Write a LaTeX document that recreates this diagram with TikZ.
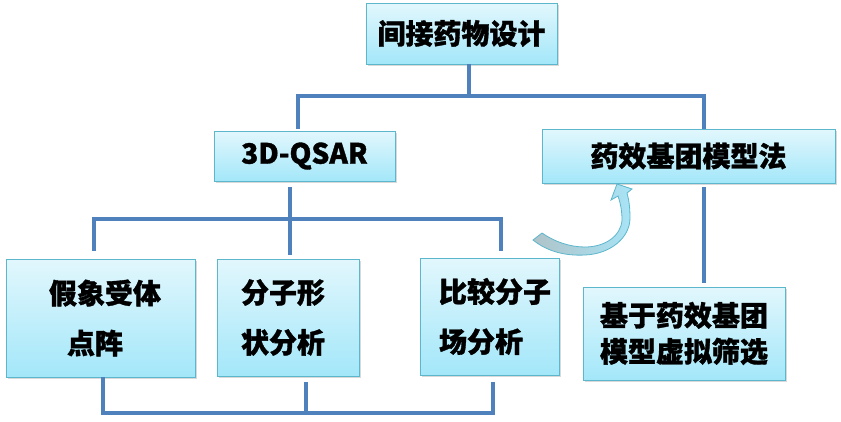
\documentclass[tikz,border=0pt]{standalone}
\usepackage{fontspec}
\newfontfamily\cjk{Noto Sans CJK SC}[BoldFeatures={FakeBold=1.2}]
\usetikzlibrary{shadows}
\definecolor{boxtop}{HTML}{E2F7FD}
\definecolor{boxbot}{HTML}{A3E7F9}
\definecolor{boxedge}{HTML}{5CB6CC}
\definecolor{linkblue}{HTML}{4F81BD}
\definecolor{arrowtail}{HTML}{AFC3C8}
\definecolor{arrowhead}{HTML}{A8E4F6}
\tikzset{link/.style={draw=linkblue,line width=4pt},
  box/.style={draw=boxedge,line width=.9pt,top color=boxtop,bottom color=boxbot,inner sep=0pt,
    font=\cjk\bfseries\fontsize{28}{36}\selectfont,
    drop shadow={opacity=.3,shadow xshift=2pt,shadow yshift=-2pt}},
  twoline/.style={box,align=left,inner xsep=0pt,font=\cjk\bfseries\fontsize{28}{50}\selectfont}}
\begin{document}
\begin{tikzpicture}[x=1pt,y=-1pt]
\useasboundingbox (0,0) rectangle (841,421);
\node[box,minimum width=191pt,minimum height=61pt](top)at(461.5,33.5){间接药物设计};
\node[box,minimum width=181pt,minimum height=50pt](qsar)at(304.5,156){3D-QSAR};
\node[box,minimum width=293pt,minimum height=54pt](pharm)at(688.5,156){药效基团模型法};
\node[twoline,text width=189pt,minimum height=118pt](recep)at(100.5,318){\hspace*{43pt}假象受体\\\hspace*{61pt}点阵};
\node[twoline,text width=142pt,minimum height=117pt](shape)at(288,317.5){\hspace*{24pt}分子形\\\hspace*{24pt}状分析};
\node[twoline,text width=139pt,minimum height=117pt](field)at(489.5,316.5){\hspace*{19pt}比较分子\\\hspace*{19pt}场分析};
\node[box,align=center,minimum width=202pt,minimum height=93pt](screen)at(684,333.5){基于药效基团\\模型虚拟筛选};
% tree links
\coordinate(busA)at(469,96);\coordinate(busB)at(290,219);\coordinate(busC)at(306,413);
\draw[link](top.south -| busA)--(busA);
\draw[link]([xshift=-6.5pt,yshift=2pt]qsar.north)|-(busA)-|([xshift=15.5pt]pharm.north);
\draw[link]([yshift=-6pt]qsar.south -| busB)--([yshift=4pt]shape.north -| busB);
\draw[link]([xshift=-6.5pt,yshift=8pt]recep.north)|-(busB)-|([xshift=11.5pt,yshift=7pt]field.north);
\draw[link]([xshift=15.5pt,yshift=-4pt]pharm.south)--([xshift=20pt,yshift=4pt]screen.north);
\draw[link]([xshift=2.5pt]recep.south)|-(busC)-|([xshift=3.5pt,yshift=-7pt]field.south);
\draw[link]([xshift=18pt,yshift=-6pt]shape.south)--(busC);
% curved arrow
\draw[boxedge,line width=.8pt,left color=arrowtail,right color=arrowhead]
  (533,240)..controls(548,252)and(566,256)..(585,255)..controls(610,254)and(630,238)..(630,218)
  ..controls(630,208)and(629,200)..(627,193)--(632,189)--(617,184)--(611,200)--(618,196)
  ..controls(621,205)and(622,212)..(622,220)..controls(621,236)and(605,247)..(585,247)
  ..controls(570,247)and(555,242)..(542,233)--cycle;
\end{tikzpicture}
\end{document}
